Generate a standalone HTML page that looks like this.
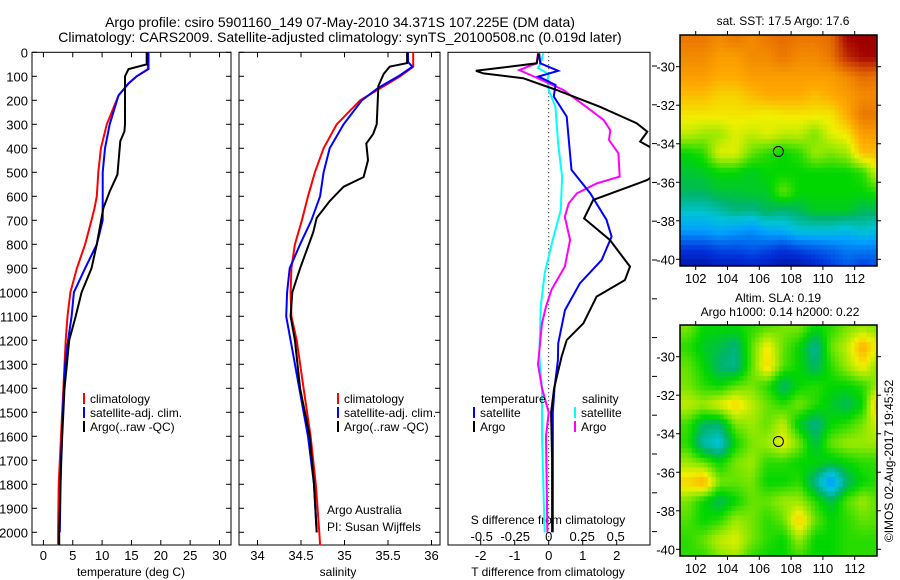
<!DOCTYPE html>
<html><head><meta charset="utf-8"><style>
html,body{margin:0;padding:0;background:#fff}
svg{display:block;font-family:"Liberation Sans",sans-serif}
</style></head><body>
<svg id="c" width="900" height="580" viewBox="0 0 900 580" xmlns="http://www.w3.org/2000/svg"></svg>
<script>
// ---- data ----
var tDepth=[0,50,70,100,130,180,300,330,370,510,580,650,800,900,1000,1100,1200,1300,1400,1600,1800,2000,2054];
var tArgo=[17.6,17.6,14.5,13.9,13.9,13.9,13.9,13.8,13.1,12.6,11.3,10.2,9.1,8.2,6.5,5.5,4.4,4.0,3.6,3.2,2.9,2.7,2.7];
var tClimDepth=[0,70,100,130,180,300,400,500,600,650,700,800,900,1000,1100,1200,1400,1600,1800,2000,2054];
var tClim=[17.8,17.8,15.9,14.5,12.8,10.8,9.8,9.35,9.1,8.7,8.2,7.1,5.7,4.6,4.1,3.8,3.4,3.0,2.6,2.5,2.5];
var tSatDepth=[0,70,100,130,180,300,400,500,700,750,800,900,1000,1100,1200,1300,1500,1700,2000];
var tSat=[17.9,17.9,15.9,14.5,12.8,11.3,10.5,10.1,10.1,9.6,9.1,7.1,5.2,4.8,4.2,3.7,3.3,3.0,2.8];
var sArgoDepth=[0,45,60,90,140,300,340,380,450,520,560,620,690,750,900,1000,1100,1200,1400,1600,1800,2000];
var sArgo=[35.72,35.72,35.52,35.45,35.39,35.37,35.33,35.25,35.27,35.22,34.99,34.83,34.68,34.64,34.49,34.40,34.38,34.43,34.49,34.60,34.65,34.68];
var sClimDepth=[0,60,100,150,200,300,400,500,600,700,800,900,1000,1100,1200,1400,1600,1800,2000,2054];
var sClim=[35.79,35.79,35.64,35.41,35.18,34.91,34.76,34.66,34.58,34.51,34.43,34.39,34.38,34.39,34.45,34.53,34.61,34.67,34.71,34.72];
var sSatDepth=[0,40,60,100,150,200,300,400,500,600,700,800,900,1000,1100,1200,1400,1600,1800,2000];
var sSat=[35.73,35.73,35.78,35.62,35.38,35.2,34.99,34.83,34.76,34.72,34.62,34.49,34.37,34.34,34.33,34.38,34.48,34.58,34.65,34.68];
var dTArgoDepth=[4,46,77,88,108,157,227,296,331,372,420,470,532,615,692,782,893,949,1018,1129,1199,1268,1400,1500,1700,2000];
var dTArgo=[-0.3,-0.35,-2.14,-1.92,-0.75,0.23,1.51,2.59,2.9,2.69,3.3,3.5,2.9,1.31,1.04,1.8,2.39,2.24,1.41,1.02,0.53,0.38,0.16,0.07,0.1,0.1];
var dTSatDepth=[4,46,77,101,136,184,268,379,490,587,698,768,865,962,1074,1213,1282,1400,1500,2000];
var dTSat=[-0.28,-0.25,0.28,-0.3,0.2,0.15,0.53,0.6,0.67,1.22,1.7,1.85,1.56,0.92,0.48,0.28,0.27,0.17,0.12,0.12];
var dSArgoDepth=[4,46,74,101,157,227,282,324,365,421,518,546,588,629,685,782,893,990,1060,1129,1300,1400,1500,1600,2000];
var dSArgo=[-0.08,-0.09,-0.22,-0.11,0.11,0.28,0.41,0.46,0.45,0.52,0.53,0.36,0.21,0.15,0.12,0.16,0.12,0.02,-0.02,-0.05,-0.08,-0.05,0,-0.02,-0.01];
var dSSatDepth=[4,46,66,90,120,157,227,379,518,657,782,921,1060,1268,1400,1600,1800,2000];
var dSSat=[-0.04,-0.06,-0.08,0,-0.01,0,0.05,0.07,0.1,0.09,0.03,-0.03,-0.06,-0.07,-0.05,-0.05,-0.04,-0.03];
var depthTicks=[0,100,200,300,400,500,600,700,800,900,1000,1100,1200,1300,1400,1500,1600,1700,1800,1900,2000];
var tempTicks=[0,5,10,15,20,25,30];
var salTicks=[34,34.5,35,35.5,36];
var dTTicks=[-2,-1,0,1,2];
var dSTicks=[-0.5,-0.25,0,0.25,0.5];
var lonTicks=[102,104,106,108,110,112];
var latTicks=[-30,-32,-34,-36,-38,-40];
var gridLons=[101.5,102.5,103.5,104.5,105.5,106.5,107.5,108.5,109.5,110.5,111.5,112.5,113.5];
var gridLats=[-28.5,-29.5,-30.5,-31.5,-32.5,-33.5,-34.5,-35.5,-36.5,-37.5,-38.5,-39.5,-40.5];
var sstGrid=[
[.78,.78,.75,.78,.75,.78,.8,.78,.78,.8,.95,.97,.97],
[.75,.75,.72,.72,.75,.75,.78,.75,.75,.78,.9,.95,.95],
[.72,.72,.7,.7,.72,.72,.72,.72,.72,.72,.75,.8,.78],
[.68,.68,.66,.66,.68,.7,.7,.7,.68,.7,.72,.75,.75],
[.64,.64,.64,.64,.64,.63,.64,.64,.64,.64,.7,.78,.78],
[.6,.58,.58,.62,.6,.62,.6,.6,.56,.62,.64,.72,.72],
[.5,.52,.62,.62,.55,.52,.5,.52,.58,.56,.58,.68,.68],
[.47,.48,.5,.5,.48,.5,.5,.5,.5,.5,.5,.52,.62],
[.45,.45,.47,.47,.48,.48,.55,.5,.5,.5,.5,.5,.52],
[.38,.38,.4,.43,.42,.45,.43,.45,.48,.48,.48,.45,.45],
[.3,.3,.32,.3,.28,.32,.33,.37,.37,.37,.35,.38,.35],
[.15,.15,.18,.18,.2,.18,.15,.18,.2,.22,.25,.25,.25],
[.05,.05,.08,.08,.1,.08,.05,.05,.1,.15,.2,.15,.18]];
var slaGrid=[
[.56,.5,.5,.5,.52,.54,.56,.56,.5,.52,.56,.58,.56],
[.52,.48,.46,.43,.54,.64,.55,.5,.41,.55,.6,.7,.62],
[.55,.5,.44,.42,.54,.66,.54,.5,.44,.52,.58,.64,.56],
[.56,.52,.5,.54,.56,.52,.44,.5,.52,.5,.5,.52,.58],
[.6,.58,.62,.66,.6,.55,.52,.56,.52,.48,.45,.5,.7],
[.53,.45,.44,.56,.58,.55,.6,.48,.42,.5,.52,.56,.62],
[.52,.4,.36,.5,.56,.58,.63,.56,.46,.55,.58,.58,.58],
[.58,.55,.5,.56,.58,.52,.52,.5,.5,.48,.5,.52,.52],
[.66,.7,.56,.55,.56,.5,.5,.52,.42,.28,.44,.5,.52],
[.56,.5,.45,.5,.55,.55,.58,.58,.52,.46,.54,.58,.54],
[.54,.5,.52,.58,.56,.52,.55,.67,.55,.5,.52,.55,.54],
[.52,.55,.6,.62,.56,.52,.5,.58,.5,.5,.52,.52,.52],
[.52,.52,.56,.58,.52,.5,.5,.52,.5,.5,.52,.52,.52]];
var argoLon=[107.2], argoLat=[-34.4];

// ---- helpers ----
var svg=document.getElementById('c'), NS='http://www.w3.org/2000/svg';
function el(tag,attrs,parent){var e=document.createElementNS(NS,tag);for(var k in attrs)e.setAttribute(k,attrs[k]);(parent||svg).appendChild(e);return e;}
function txt(s,x,y,anchor,size,parent){var t=el('text',{x:x,y:y,'text-anchor':anchor||'start','font-size':size||12,fill:'#000'},parent);t.textContent=s;return t;}
var Y0=52.3,Y1=545;
function yD(d){return Y0+d*0.24;}
function xT(v){return 43.4+v*5.87;}
function xS(v){return 257.5+(v-34)*87;}
function xdT(v){return 548.7+v*34;}
function xdS(v){return 548.7+v*134;}
function line(xs,ds,fx,color,name,clip){
  var p='';for(var i=0;i<xs.length;i++)p+=(i?'L':'M')+fx(xs[i]).toFixed(1)+','+yD(ds[i]).toFixed(1);
  var a=el('path',{d:p,fill:'none',stroke:color,'stroke-width':2});
  if(clip)a.setAttribute('clip-path','url(#'+clip+')');
  
  
}
function frame(x0,x1,name){
  var r=el('rect',{x:x0,y:Y0,width:x1-x0,height:Y1-Y0,fill:'none',stroke:'#000','stroke-width':1});
  
  
  depthTicks.forEach(function(d){el('line',{x1:x0,x2:x0+5,y1:yD(d),y2:yD(d),stroke:'#000'});el('line',{x1:x1,x2:x1-5,y1:yD(d),y2:yD(d),stroke:'#000'});});
}
var cmapStops=[[0,0,0,130],[0.15,0,50,220],[0.3,0,160,255],[0.37,0,195,215],[0.44,0,180,110],[0.5,0,215,0],[0.57,140,232,0],[0.63,240,240,0],[0.7,255,170,0],[0.78,235,120,0],[0.87,205,65,0],[0.96,160,0,0],[1,140,0,0]];
function cmap(v){v=Math.max(0,Math.min(1,v));
  for(var i=1;i<cmapStops.length;i++){var a=cmapStops[i-1],b=cmapStops[i];
    if(v<=b[0]){var f=(v-a[0])/(b[0]-a[0]);
      return 'rgb('+Math.round(a[1]+f*(b[1]-a[1]))+','+Math.round(a[2]+f*(b[2]-a[2]))+','+Math.round(a[3]+f*(b[3]-a[3]))+')';}}
  return 'rgb(140,0,0)';}

// defs
var defs=el('defs',{});
var cp=el('clipPath',{id:'p3'},defs);el('rect',{x:448,y:Y0,width:202,height:Y1-Y0},cp);
var cm1=el('clipPath',{id:'m1'},defs);el('rect',{x:680,y:35,width:197,height:231},cm1);
var cm2=el('clipPath',{id:'m2'},defs);el('rect',{x:680,y:325,width:197,height:231},cm2);

// titles
var t1=txt('Argo profile: csiro 5901160_149 07-May-2010 34.371S 107.225E (DM data)',340,27,'middle',14);


var t2=txt('Climatology: CARS2009. Satellite-adjusted climatology: synTS_20100508.nc (0.019d later)',340,42,'middle',14);



// panel 1 temperature
frame(32,231,'temperature-panel');
depthTicks.forEach(function(d){var t=txt(String(d),28,yD(d)+5,'end',13);});
tempTicks.forEach(function(v){var x=xT(v);el('line',{x1:x,x2:x,y1:Y0,y2:Y0+5,stroke:'#000'});el('line',{x1:x,x2:x,y1:Y1,y2:Y1-5,stroke:'#000'});var t=txt(String(v),x,560,'middle',13);});
var xl=txt('temperature (deg C)',131,576,'middle',12);
line(tClim,tClimDepth,xT,'#f00','temperature-climatology-line');
line(tSat,tSatDepth,xT,'#00f','temperature-satellite-line');
line(tArgo,tDepth,xT,'#000','temperature-argo-line');

// panel 2 salinity
frame(239,440,'salinity-panel');
salTicks.forEach(function(v){var x=xS(v);el('line',{x1:x,x2:x,y1:Y0,y2:Y0+5,stroke:'#000'});el('line',{x1:x,x2:x,y1:Y1,y2:Y1-5,stroke:'#000'});var t=txt(String(v),x,560,'middle',13);});
var xl2=txt('salinity',338,576,'middle',12);
line(sClim,sClimDepth,xS,'#f00','salinity-climatology-line');
line(sSat,sSatDepth,xS,'#00f','salinity-satellite-line');
line(sArgo,sArgoDepth,xS,'#000','salinity-argo-line');
var a1=txt('Argo Australia',327,514,'start',12);
var a2=txt('PI: Susan Wijffels',327,531,'start',12);

// legends
function legend(x,y,items,name){
  var g=el('g',{});
  items.forEach(function(it,i){el('line',{x1:x,x2:x,y1:y+i*14-10,y2:y+i*14+1,stroke:it[1],'stroke-width':2},g);txt(it[0],x+6,y+i*14,'start',12,g);});
}
legend(84,403,[['climatology','#f00'],['satellite-adj. clim.','#00f'],['Argo(..raw -QC)','#000']],'temperature-legend');
legend(338,403,[['climatology','#f00'],['satellite-adj. clim.','#00f'],['Argo(..raw -QC)','#000']],'salinity-legend');

// panel 3 differences
var r3=el('rect',{x:448,y:Y0,width:202,height:Y1-Y0,fill:'none',stroke:'#000'});

for(var k=0;k<13;k++){var yy=66+38.8*k;el('line',{x1:652,x2:657,y1:yy,y2:yy,stroke:'#000'});}
el('line',{x1:xdT(0),x2:xdT(0),y1:Y0,y2:Y1,stroke:'#000','stroke-dasharray':'1,3'});
dTTicks.forEach(function(v){var x=xdT(v);el('line',{x1:x,x2:x,y1:Y1,y2:Y1-5,stroke:'#000'});var t=txt(String(v),x,560,'middle',13);});
dSTicks.forEach(function(v){var t=txt(String(v),xdS(v),541,'middle',13);});
var sd=txt('S difference from climatology',548,524,'middle',12);
var td=txt('T difference from climatology',548,576,'middle',12);
line(dSSat,dSSatDepth,xdS,'#0ff','s-diff-satellite-line','p3');
line(dSArgo,dSArgoDepth,xdS,'#f0f','s-diff-argo-line','p3');
line(dTSat,dTSatDepth,xdT,'#00f','t-diff-satellite-line','p3');
line(dTArgo,dTArgoDepth,xdT,'#000','t-diff-argo-line','p3');
var lt=txt('temperature',481,403,'start',12);
legend(474,417,[['satellite','#00f'],['Argo','#000']],'t-diff-legend');
var ls=txt('salinity',582,403,'start',12);
legend(575,417,[['satellite','#0ff'],['Argo','#f0f']],'s-diff-legend');

// maps (bilinear-smoothed heatmap from grids)
var SUB=4;
function mx(lon){return 695.7+(lon-102)*15.9;}
function sample(grid,fi,fj){
  fi=Math.max(0,Math.min(grid.length-1,fi));fj=Math.max(0,Math.min(grid[0].length-1,fj));
  var i0=Math.floor(fi),j0=Math.floor(fj),i1=Math.min(i0+1,grid.length-1),j1=Math.min(j0+1,grid[0].length-1);
  var a=fi-i0,b=fj-j0;
  return (1-a)*((1-b)*grid[i0][j0]+b*grid[i0][j1])+a*((1-b)*grid[i1][j0]+b*grid[i1][j1]);
}
function map(top,latTop,grid,clip,name,cellName){
  function my(lat){return latTop+(-30-lat)*19.26;}
  var g=el('g',{'clip-path':'url(#'+clip+')'});
  for(var i=0;i<gridLats.length;i++)for(var j=0;j<gridLons.length;j++){
    for(var si=0;si<SUB;si++)for(var sj=0;sj<SUB;sj++){
      var fi=i-0.5+(si+0.5)/SUB, fj=j-0.5+(sj+0.5)/SUB;
      var lon0=gridLons[j]-0.5+sj/SUB, lat0=gridLats[i]+0.5-si/SUB;
      var c=el('rect',{x:mx(lon0).toFixed(2),y:my(lat0).toFixed(2),width:(15.9/SUB+0.6).toFixed(2),height:(19.26/SUB+0.6).toFixed(2),fill:cmap(sample(grid,fi,fj))},g);
      
      
    }
  }
  var ci=el('circle',{cx:mx(argoLon[0]),cy:my(argoLat[0]),r:5,fill:'none',stroke:'#000','stroke-width':1});
  
  el('rect',{x:680,y:top,width:197,height:231,fill:'none',stroke:'#000','stroke-width':1.5});
  lonTicks.forEach(function(v){var x=mx(v);el('line',{x1:x,x2:x,y1:top,y2:top-4,stroke:'#000'});el('line',{x1:x,x2:x,y1:top+231,y2:top+235,stroke:'#000'});var t=txt(String(v),x,top+248,'middle',13);});
  latTicks.forEach(function(v){var y=my(v);el('line',{x1:680,x2:676,y1:y,y2:y,stroke:'#000'});el('line',{x1:877,x2:881,y1:y,y2:y,stroke:'#000'});var t=txt(String(v),675,y+5,'end',13);});
}
map(35,66.7,sstGrid,'m1','sst-map','sst-cell');
map(325,356.7,slaGrid,'m2','sla-map','sla-cell');
var mt1=txt('sat. SST: 17.5 Argo: 17.6',783,25,'middle',12);
var mt2=txt('Altim. SLA: 0.19',778,302,'middle',12);
var mt3=txt('Argo h1000: 0.14 h2000: 0.22',780,316,'middle',12);
var cr=txt('©IMOS 02-Aug-2017 19:45:52',0,0,'middle',12);cr.setAttribute('transform','translate(893,461) rotate(-90)');

</script>
</body></html>
